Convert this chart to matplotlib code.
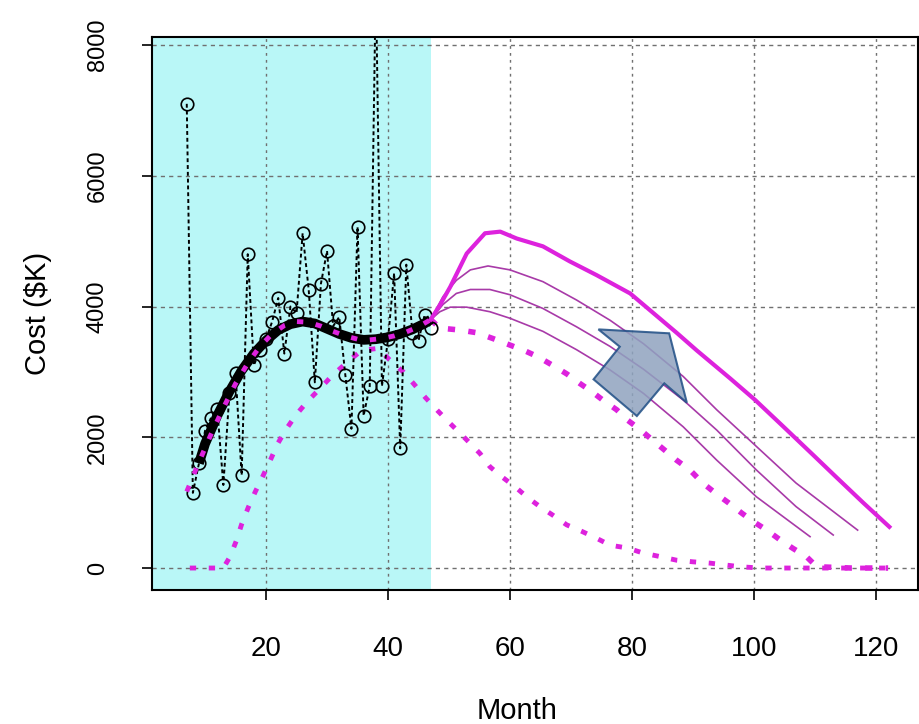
import matplotlib
matplotlib.use("Agg")
import matplotlib.pyplot as plt
from matplotlib.patches import Polygon

plt.rcParams['font.family'] = ['Liberation Sans', 'DejaVu Sans']

# monthly actual cost ($K)
act_month = list(range(7, 48))
act_cost = [7100, 1150, 1600, 2100, 2300, 2430, 1270, 2680, 2980, 1420,
            4800, 3100, 3330, 3500, 3770, 4130, 3280, 4000, 3900, 5120,
            4250, 2840, 4350, 4850, 3700, 3840, 2950, 2130, 5220, 2330,
            2780, 9000, 2780, 3500, 4510, 1830, 4640, 3600, 3480, 3870, 3670]

# smoothed fit of actuals
fit_month = [9, 10, 12, 14, 16, 18, 20, 22, 24, 26, 28, 30, 32, 34, 36, 38, 40, 42, 44, 46, 47]
fit_cost = [1600, 1900, 2330, 2700, 3020, 3280, 3480, 3640, 3730, 3770, 3740,
            3660, 3580, 3520, 3490, 3500, 3530, 3580, 3650, 3740, 3800]

# model fit shown as magenta dots over the fit
mfit_month = [7, 9, 11, 13, 15, 17, 19, 21, 23, 25, 27, 29, 31, 33, 35, 37, 39, 41, 43, 45, 47]
mfit_cost = [1170, 1620, 2050, 2450, 2820, 3130, 3390, 3580, 3710, 3770, 3760,
             3700, 3620, 3550, 3500, 3490, 3510, 3550, 3610, 3690, 3800]

# early dotted profile
low_month = [7.5, 10.3, 13.0, 14.1, 15.1, 16.0, 17.1, 18.2, 19.5, 20.8, 21.9, 23.2, 24.9,
             26.8, 28.9, 30.8, 33.7, 35.7, 38.4, 40.3, 42.5, 44.1, 46.2, 48.2, 50.2,
             52.9, 55.1, 56.7, 58.6, 60.8, 63.0, 64.9, 67.0, 69.3, 71.8, 74.2, 76.4,
             79.3, 81.8, 84.6, 87.3, 90.0, 92.8, 97.7, 101, 110, 122]
low_cost = [0, 0, 0, 175, 410, 670, 930, 1160, 1410, 1670, 1900, 2110, 2340,
            2550, 2750, 2940, 3180, 3330, 3360, 3180, 3000, 2830, 2600, 2400, 2210,
            1960, 1750, 1550, 1400, 1245, 1070, 940, 810, 660, 560, 455, 350,
            305, 230, 175, 120, 95, 75, 20, 0, 0, 0]

# later dotted profile
high_month = [47, 48.5, 51.8, 54.5, 57.2, 60.0, 62.5, 64.6, 67.0, 69.3, 71.5, 73.4, 75.2,
              77.5, 79.3, 81.3, 83.2, 85.4, 87.3, 89.5, 91.6, 93.9, 95.8, 98.0, 99.9,
              102.1, 104.3, 106.4, 108.6, 110.3, 116, 122]
high_cost = [3800, 3670, 3640, 3600, 3510, 3410, 3320, 3230, 3100, 2970, 2820, 2700, 2570,
             2420, 2260, 2120, 1970, 1800, 1650, 1500, 1300, 1130, 1000, 840, 710,
             580, 430, 300, 175, 20, 0, 0]

# forecasts
fc_month = [47, 48.5, 50.2, 52.9, 55.9, 58.4, 61.1, 65.4, 69.8, 74.2, 79.7, 87.3, 90.6,
            96.1, 100.2, 104.8, 109.7, 113.5, 117.9, 122.2]
fc_cost = [3800, 4020, 4300, 4810, 5120, 5145, 5040, 4920, 4690, 4480, 4200, 3600, 3330,
           2900, 2570, 2165, 1730, 1390, 1000, 630]

fa_month = [47, 49, 51.2, 53.5, 56.4, 60, 65.4, 70.9, 76.4, 81.9, 88.4, 93.9, 100.4, 106.9, 117.0]
fa_cost = [3800, 4150, 4400, 4560, 4620, 4560, 4380, 4100, 3790, 3430, 2930, 2420, 1860, 1300, 580]
fb_month = [47, 49, 51.2, 53.5, 56.7, 60, 65.4, 70.9, 76.4, 81.9, 88.4, 93.9, 100.4, 106.9, 113.0]
fb_cost = [3800, 4030, 4200, 4260, 4260, 4180, 3970, 3690, 3390, 3040, 2570, 2110, 1500, 940, 505]
fcc_month = [47, 48.5, 50.2, 52.9, 56.7, 60, 65.4, 70.9, 76.4, 81.9, 88.4, 93.9, 100.4, 109.2]
fcc_cost = [3800, 3920, 3990, 3990, 3920, 3820, 3620, 3340, 3030, 2670, 2160, 1650, 1090, 480]

# block arrow annotation (month, cost)
arrow_m = [86.1, 74.5, 78.0, 73.7, 80.8, 85.3, 89.0]
arrow_c = [3590, 3650, 3385, 2886, 2325, 2825, 2528]

fig = plt.figure(figsize=(9.2, 7.24), dpi=100)
ax = fig.add_axes([152/920, 1-590/724, (918-152)/920, (590-37)/724])
ax.set_xlim(1.3, 126.9)
ax.set_ylim(-336, 8122)

ax.axvspan(1.3, 47.1, color='#b9f7f7', zorder=0, lw=0)

for t in [20, 40, 60, 80, 100, 120]:
    ax.axvline(t, color='#707070', lw=1, ls=(0, (2, 3)), zorder=1)
for t in [0, 2000, 4000, 6000, 8000]:
    ax.axhline(t, color='#707070', lw=1, ls=(0, (3, 3)), zorder=1)

mag = '#dd22dd'
thin = '#a83aa8'
ax.plot(low_month, low_cost, color=mag, lw=3.5, ls=(0, (1.3, 2.6)), zorder=2)
ax.plot(high_month, high_cost, color=mag, lw=4, ls=(0, (1.3, 2.4)), zorder=2)

ax.plot(act_month, act_cost, color='black', lw=1.4, ls=(0, (2, 1.5)), zorder=3)
ax.plot(act_month, act_cost, 'o', ms=9, mfc='none', mec='black', mew=1.2, zorder=3)

ax.plot(fit_month, fit_cost, color='black', lw=7, solid_capstyle='butt', zorder=4)
ax.plot(mfit_month, mfit_cost, color=mag, lw=3.5, ls=(0, (1.3, 2.6)), zorder=5)

ax.plot(fa_month, fa_cost, color=thin, lw=1.2, zorder=4)
ax.plot(fb_month, fb_cost, color=thin, lw=1.2, zorder=4)
ax.plot(fcc_month, fcc_cost, color=thin, lw=1.2, zorder=4)
ax.plot(fc_month, fc_cost, color=mag, lw=3, zorder=4)

ax.add_patch(Polygon(list(zip(arrow_m, arrow_c)), closed=True, facecolor='#8fa3bf',
                     edgecolor='#1f4e85', lw=1.5, alpha=0.85, zorder=6))

ax.set_xticks([20, 40, 60, 80, 100, 120])
ax.set_yticks([0, 2000, 4000, 6000, 8000])
ax.tick_params(direction='out', length=7, width=1.2)
ax.tick_params(axis='x', labelsize=20, pad=26)
ax.tick_params(axis='y', labelsize=17, pad=24)
for lab in ax.get_yticklabels():
    lab.set_rotation(90)
    lab.set_va('center')
for s in ax.spines.values():
    s.set_linewidth(1.5)

ax.set_xlabel('Month', fontsize=21)
ax.set_ylabel('Cost ($K)', fontsize=21)
ax.xaxis.set_label_coords(0.476, -0.193)
ax.yaxis.set_label_coords(-0.131, 0.5)

fig.savefig('out.png', dpi=100)
